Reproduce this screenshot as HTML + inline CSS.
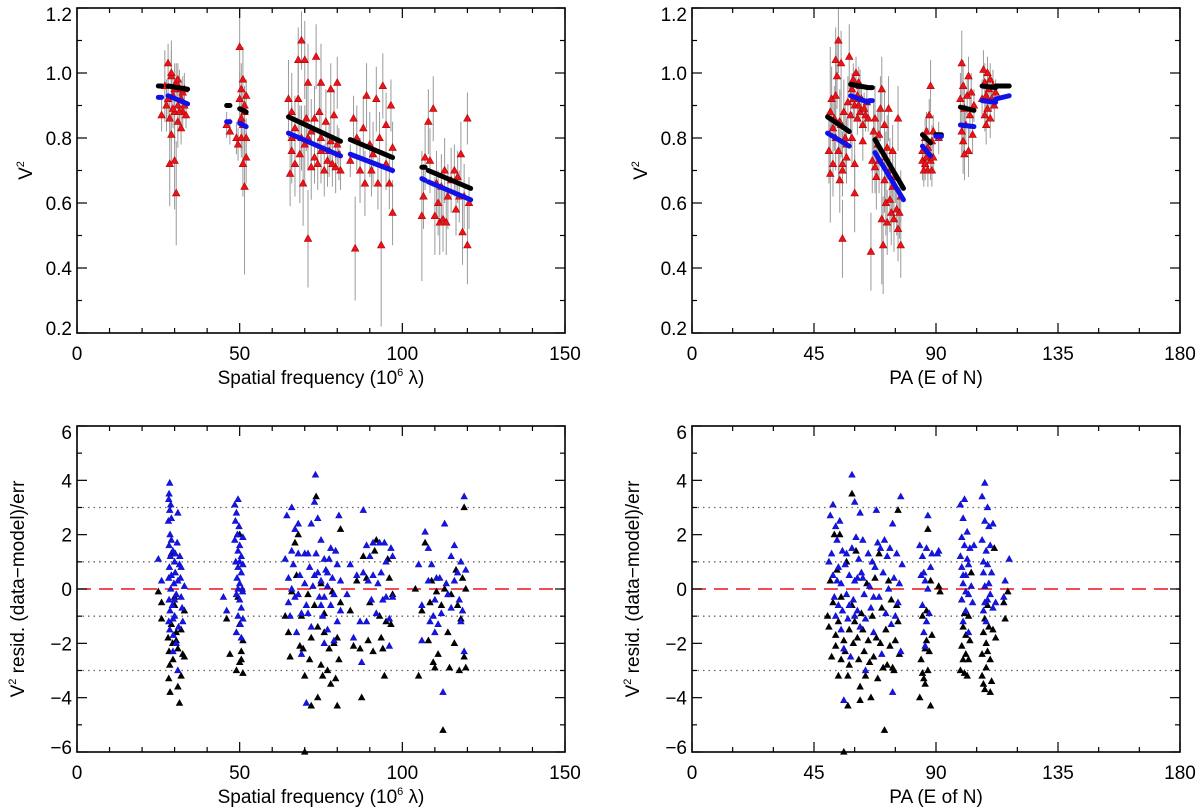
<!DOCTYPE html>
<html><head><meta charset="utf-8">
<style>
html,body{margin:0;padding:0;background:#fff;}
svg{display:block;font-family:"Liberation Sans",Arial,sans-serif;}
</style></head>
<body>
<svg id="chart" width="1200" height="810" viewBox="0 0 1200 810"></svg>
<script>
// ---------- DATA ----------
// Top-left: spatial frequency vs V^2 (x, V2, err)
const tlData = [
[26,0.87,.05],[27,0.96,.11],[28,1.03,.06],[28.5,0.72,.13],[29,0.81,.09],[29,0.99,.08],[29.5,0.93,.07],[30,0.73,.15],[30,0.88,.1],[30.5,0.63,.16],[30.5,0.97,.06],[31,0.90,.05],[31,0.85,.08],[31.5,0.95,.06],[32,0.83,.05],[32,0.92,.06],[32.5,0.88,.05],[33,0.90,.04],[33.5,0.87,.04],[28,0.92,.06],[29,1.0,.1],[30,0.95,.08],[31,0.98,.05],[32.5,0.94,.05],[27.5,0.9,.08],[33,0.95,.05],[28.5,0.86,.07],[29.5,0.89,.06],[31.5,0.88,.05],
[46,0.84,.04],[47,0.82,.04],[49.5,0.78,.05],[50,0.92,.08],[50,1.08,.12],[50.5,0.86,.1],[51,0.72,.1],[51,0.98,.1],[51.5,0.65,.27],[51.5,0.88,.08],[52,0.80,.06],[52,0.93,.05],[50.5,0.95,.08],[51,0.84,.1],[52,0.74,.08],[49,0.80,.05],[50.5,0.80,.06],[51.5,0.90,.06],
[65,0.92,.12],[65.5,0.69,.1],[66,0.76,.1],[66,0.88,.12],[67,0.83,.1],[67,0.72,.1],[68,0.92,.12],[68,1.04,.1],[68.5,0.75,.15],[69,1.10,.09],[69.5,0.66,.13],[70,0.78,.12],[70,1.04,.12],[70.5,0.86,.1],[71,0.49,.15],[71,0.97,.12],[72,0.82,.1],[72,0.71,.1],[73,0.86,.1],[73.5,1.05,.1],[74,0.72,.08],[74.5,0.88,.1],[75,0.97,.12],[75,0.76,.1],[76,0.70,.08],[76.5,0.85,.1],[77,0.73,.08],[78,0.95,.08],[78,0.79,.08],[79,0.87,.08],[79.5,0.71,.08],[80,0.97,.08],[80.5,0.75,.08],[81,0.70,.06],[66,0.80,.1],[71,0.80,.1],[75,0.80,.1],[77.5,0.76,.08],[80,0.78,.06],[73,0.74,.08],[78.5,0.72,.07],[69,0.80,.1],
[84,0.73,.05],[85,0.86,.07],[85.5,0.46,.16],[86,0.80,.1],[87,0.70,.1],[88,0.83,.1],[88.5,0.66,.1],[89,0.93,.1],[90,0.78,.1],[90.5,0.70,.08],[91,0.75,.1],[92,0.92,.1],[93,0.80,.08],[93.5,0.47,.25],[94,0.96,.1],[95,0.72,.08],[95,0.84,.1],[96,0.66,.08],[96.5,0.90,.08],[97,0.57,.1],[97,0.77,.08],[92.5,0.66,.08],
[106,0.56,.2],[106.5,0.62,.1],[107,0.74,.1],[108,0.85,.1],[108.5,0.73,.1],[109.5,0.89,.1],[110,0.56,.12],[111,0.60,.1],[111.5,0.54,.1],[112,0.65,.1],[112.5,0.55,.1],[113,0.70,.1],[113.5,0.54,.1],[114,0.62,.1],[115,0.67,.1],[116,0.70,.08],[116.5,0.58,.08],[117,0.68,.08],[118,0.75,.1],[118.5,0.51,.1],[119,0.62,.1],[120,0.86,.08],[120,0.47,.12],[120.5,0.60,.08],[117.5,0.62,.08],[110.5,0.66,.1]
];
// model segments: [x0, x1, black0, black1, blue0, blue1]
const tlModel = [
[25,26,0.96,0.96,0.925,0.925],[28,34,0.96,0.95,0.93,0.905],[46,47,0.90,0.90,0.85,0.85],[50,52,0.89,0.88,0.845,0.835],
[65,81,0.865,0.79,0.815,0.745],[84,97,0.795,0.74,0.75,0.70],[106,107,0.71,0.71,0.675,0.67],[108,121,0.70,0.645,0.665,0.61]
];
// Top-right: PA vs V^2
const trData = [
[50.5,0.76,.1],[51,0.88,.2],[51,0.69,.15],[51.5,0.92,.1],[52,0.72,.1],[52,0.83,.1],[52.5,0.86,.1],[53,0.93,.1],[53,1.04,.1],[53.5,0.99,.1],[54,1.10,.1],[54,0.76,.1],[54.5,0.67,.1],[55,0.84,.1],[55,1.03,.1],[55.5,0.49,.12],[55.5,0.72,.1],[56,0.88,.1],[56.5,0.80,.1],[57,0.74,.08],[57.5,0.91,.08],[57,0.78,.08],[55.5,0.70,.08],[53,0.80,.1],[54.5,0.85,.1],
[58,1.05,.1],[58.5,0.87,.1],[59,0.95,.05],[59,0.80,.08],[59.5,0.98,.05],[60,0.63,.12],[60,0.90,.05],[60.5,1.00,.05],[61,0.86,.05],[61,0.93,.05],[61.5,0.97,.05],[62,0.88,.05],[62.5,0.92,.05],[63,0.84,.05],[63.5,0.89,.05],[64,0.87,.05],[64.5,0.91,.04],[65,0.86,.04],[60,0.72,.08],[62,0.96,.05],[63,0.79,.06],[59.5,0.92,.05],[61.5,0.90,.05],
[66,0.45,.12],[66.5,0.73,.1],[67,0.82,.1],[67.5,0.86,.1],[68,0.68,.1],[68.5,0.78,.1],[69,0.73,.1],[69.5,0.89,.1],[70,0.55,.2],[70,0.95,.1],[70.5,0.47,.15],[71,0.67,.1],[71,0.84,.1],[71.5,0.60,.1],[72,0.77,.1],[72,0.54,.1],[72.5,0.89,.1],[73,0.70,.1],[73,0.61,.1],[73.5,0.57,.1],[74,0.76,.08],[74,0.65,.1],[74.5,0.55,.1],[75,0.68,.08],[75.5,0.58,.08],[76,0.52,.1],[76,0.86,.1],[76.5,0.57,.08],[77,0.47,.1],[77,0.62,.08],[69,0.81,.08],[71.5,0.74,.08],[67.5,0.71,.08],
[85,0.73,.06],[85,0.76,.06],[85.5,0.70,.05],[86,0.80,.06],[86,0.72,.05],[86.5,0.74,.05],[87,0.77,.06],[87,0.70,.05],[87.5,0.87,.05],[88,0.73,.06],[88,0.96,.08],[88.5,0.79,.05],[89,0.82,.05],[89,0.74,.05],[86.5,0.82,.06],[88.5,0.70,.05],[91,0.80,.05],
[99,0.92,.08],[99.5,0.82,.08],[99.5,1.03,.1],[100,0.79,.1],[100,0.96,.08],[100.5,0.89,.08],[101,0.84,.06],[101.5,0.93,.06],[102,0.76,.08],[102,0.99,.06],[102.5,0.87,.06],[103,0.94,.06],[103.5,0.81,.06],[104,0.90,.05],[100.5,0.75,.08],
[107,0.92,.06],[107.5,1.01,.06],[108,0.87,.05],[108,0.97,.06],[108.5,0.93,.05],[109,1.00,.05],[109,0.89,.05],[109.5,0.95,.05],[110,0.86,.06],[110,0.98,.05],[110.5,0.92,.04],[111,0.96,.05],[111.5,0.90,.05],[112,0.94,.04],[108.5,0.84,.06]
];
const trModel = [
[50,58,0.865,0.82,0.815,0.775],[58.5,65,0.965,0.955,0.93,0.91],[65.5,66.5,0.955,0.955,0.915,0.915],[67.5,78,0.795,0.645,0.755,0.61],
[85,88,0.81,0.785,0.775,0.745],[90,92,0.81,0.81,0.805,0.805],[99,104,0.895,0.885,0.84,0.835],[107,112,0.96,0.955,0.915,0.91],[112,117,0.96,0.96,0.92,0.93]
];
// Bottom-left residuals (spatial freq, resid)
const blBlue = [
[25,1.1],[26,0.3],[28.5,3.9],[28.3,3.5],[28.2,3.3],[28.5,2.9],[28.1,2.5],[28.6,2.0],[28.3,1.6],[28.7,1.2],[28.4,0.8],[28.2,0.4],[28.8,0.0],[28.3,-0.4],[28.6,-0.8],[28.2,-1.2],[28.5,-1.5],[29,1.8],[29.5,1.4],[30,1.0],[30.2,0.6],[29.8,0.2],[30.5,-0.2],[29.3,-0.6],[30,-1.0],[30.8,1.7],[31,2.8],[31.5,0.9],[31.8,0.4],[32,-0.3],[32.3,-0.7],[31.2,-1.4],[30.5,-2.0],[29.5,-2.3],[31,-3.0],[32.5,-1.2],[33,0.1],[30.2,1.3],[29,2.6],[28.8,3.1],[29.6,-1.7],[31.6,1.2],[29,0.5],[30,-0.4],[31,0.3],[32,0.8],[29.5,-1.1],
[45,-0.3],[46,-0.8],[48.5,3.1],[49,2.8],[49.5,3.3],[48.7,2.5],[49.3,2.0],[50,1.6],[49.5,1.4],[50.5,1.2],[48.8,1.0],[49.5,0.8],[50.5,0.6],[49.2,0.4],[50,0.2],[50.8,0.0],[49,-0.2],[50,-0.4],[50.5,-0.7],[49.5,-1.0],[50.2,-1.3],[49,-1.6],[50.5,-1.8],[51,1.9],[51,0.9],[50.9,-0.1],[51,-1.1],[48.5,1.8],[49.8,2.3],[50,1.0],[49.5,0.0],
[64,1.1],[64.5,2.7],[65,0.4],[65,-0.5],[65.5,-1.0],[66,3.0],[66,1.4],[66.5,0.9],[67,2.2],[67,-0.3],[67.5,-1.6],[68,2.4],[68,1.3],[68.5,0.5],[69,-0.9],[69,-2.4],[70,1.3],[70,0.2],[70.5,-0.6],[70.5,-4.2],[71,1.3],[71.5,0.8],[72,2.4],[72,-1.4],[72.5,0.1],[73,3.2],[73.3,4.2],[73.5,1.3],[74,2.6],[74,0.6],[74.5,-0.3],[75,1.8],[75,0.3],[75.5,-1.0],[76,1.1],[76,-0.3],[76.5,0.7],[77,-1.5],[77,0.1],[77.5,1.1],[78,-0.6],[78,1.5],[78.5,0.4],[79,-0.2],[79.5,1.4],[80,-1.2],[80,0.9],[80.5,2.7],[81,0.3],[81,-0.8],[79,-1.9],[76,-2.0],[68,-0.2],[71,-0.9],[66,0.0],[73,0.5],[75,-0.6],[77,0.6],
[83,-0.2],[84,0.9],[85,-1.8],[86,0.5],[87,-1.2],[87.5,-2.7],[88,2.9],[88,0.6],[89,1.6],[89,-1.2],[89.5,0.3],[90,1.2],[90.5,-0.4],[91,1.7],[91,0.5],[92,-0.9],[92.5,0.2],[93,1.7],[93.5,0.6],[94,-0.4],[94.5,1.7],[95,-0.3],[95,1.0],[96,-1.1],[96,-2.1],[96.5,1.5],[97,1.2],[97,-0.3],
[105,0.9],[106,-0.6],[106,-1.9],[107,2.1],[108,1.5],[108,0.3],[108.5,-1.2],[109,0.9],[110,-0.4],[110,-1.6],[110.5,0.4],[111,-1.3],[111.5,0.4],[112,-0.9],[112.5,-3.8],[113,2.4],[113.5,0.2],[114,-0.2],[115,1.2],[115,-0.7],[116,1.6],[116,0.3],[117,0.6],[117.5,-0.4],[118,1.0],[118,-1.2],[119,3.4],[119,-2.3],[119.5,0.7],[118.5,-0.8],[109.5,-1.0]
];
const blBlack = [
[25,-0.1],[26,-0.5],[26,-1.1],[28,-1.8],[28.3,-2.3],[28.5,-2.8],[28.2,-3.3],[28.6,-3.8],[29,-1.3],[29.4,-2.0],[30,-0.3],[30.5,-1.6],[31,-2.2],[31,-3.6],[31.5,-4.2],[32,-1.5],[32.5,-2.4],[33,-2.5],[32,-3.2],[29,1.3],[30,-0.6],[33,-0.8],[29.5,-2.6],[30.5,-1.9],
[46,-1.1],[47,-2.4],[49,-3.0],[50,-2.7],[50.5,-2.3],[51,-3.1],[51,-1.9],[50,-1.3],[49.5,-0.3],[50,2.0],[50.5,-2.6],
[64,-1.0],[65,-1.6],[65.5,-2.5],[66,-0.1],[67,1.7],[67.5,0.5],[68,2.0],[68.5,-2.1],[69,-1.0],[69.5,-2.2],[70,-3.2],[70,-6.0],[71,-0.2],[72,-4.3],[72,-1.8],[73,-0.6],[73.5,3.4],[74,-1.4],[74,-4.0],[75,-2.8],[75.5,-3.2],[76,-0.9],[76,-1.6],[77,-3.0],[77.5,-2.2],[78,-3.5],[78.5,-0.1],[79,-2.0],[79.5,-3.3],[80,-4.3],[80.5,-2.6],[81,-0.5],[81,2.2],[80,-1.8],[75,0.2],[71.5,-2.6],
[84,-0.8],[85,-2.1],[86,0.3],[87,-2.2],[87.5,-4.0],[88,1.2],[89,0.4],[89.5,-1.9],[90,-0.5],[91,-2.3],[91.5,1.4],[93,-1.0],[93.5,-1.8],[94,-2.2],[94.5,-3.2],[95,-1.2],[95.5,1.1],[96,0.4],[96.5,-1.3],[97,-0.2],[92,1.8],
[104,0.0],[105,-3.2],[106,-0.8],[107,1.7],[108,-1.9],[108.5,-0.5],[109,0.3],[109.5,-2.7],[110,-2.9],[110.5,-0.1],[111,-2.4],[112,-0.6],[112.5,-5.2],[113,0.0],[114,-1.6],[114.5,-2.9],[115,-0.2],[116,-2.0],[116.5,0.7],[117,-0.6],[117.5,-3.0],[118,-1.1],[118.5,0.4],[119,-2.5],[119,3.0],[119.5,-2.9],[119.5,0.0]
];
// Bottom-right residuals (PA, resid)
const brBlue = [
[50.5,1.0],[51,2.7],[51.5,1.3],[52,3.1],[52,0.5],[52.5,-0.3],[53,2.3],[53,-1.0],[53.5,1.8],[54,0.8],[54,-0.6],[54.5,2.5],[55,-1.5],[55,0.2],[55.5,1.4],[56,-2.2],[56,-4.1],[56.5,0.9],[57,-0.2],[57,1.3],[57.5,-1.1],[58,0.5],[58.5,-2.5],[59,4.2],[59,1.5],[59.5,-0.4],[60,3.2],[60,0.3],[60.5,1.9],[61,-0.8],[61.5,1.1],[62,-1.4],[62,2.8],[62.5,0.6],[63,1.8],[63.5,-0.2],[64,-1.1],[64,-3.0],[65,1.3],[65.5,0.1],[66,-0.7],[66.5,1.0],[67,-1.6],[67.5,0.8],[68,2.9],[68.5,1.7],[69,-0.3],[69.5,1.5],[70,-2.4],[70.5,0.6],[71,1.8],[71.5,-0.9],[72,1.2],[72.5,0.0],[73,1.5],[73.5,-1.3],[74,2.4],[74,-3.8],[74.5,0.4],[75,-1.0],[75.5,1.3],[76,-0.5],[76.5,0.2],[77,3.4],[77,-2.3],[77.5,0.9],[67,-0.3],[61,0.4],[55.5,-0.8],[58,-0.6],[60,-1.0],[63,0.4],[53.5,0.3],
[84,1.6],[84.5,0.5],[85,-0.6],[85,1.2],[85.5,-1.6],[86,0.3],[86,-2.1],[86.5,1.5],[87,0.0],[87,2.7],[87.5,-0.9],[88,0.8],[88.5,1.3],[86.5,-1.2],[85.5,0.6],[91,1.4],[90.5,1.3],
[99,3.1],[99,1.2],[99.5,-0.4],[99.5,0.8],[100,2.6],[100,0.2],[100,-1.2],[100.5,3.3],[100.5,1.6],[101,-0.8],[101,0.5],[101.5,2.1],[101.5,1.1],[102,-0.2],[102,-1.6],[102.5,1.5],[103,0.1],[103.5,-0.5],[104,1.6],[99.5,1.9],[101,-0.1],[100,0.5],[102,0.9],
[107,3.4],[107,1.8],[107.5,0.6],[107.5,-0.8],[108,3.9],[108,2.5],[108,0.1],[108.5,1.4],[108.5,-1.2],[109,3.0],[109,0.9],[109,-0.4],[109.5,2.3],[110,1.6],[110,-0.2],[110.5,0.6],[111,2.4],[111,-0.7],[112,-0.5],[107.5,1.0],[115,-0.3],[115.5,0.3],[117,1.1],[108,-0.5],[109.5,0.2]
];
const brBlack = [
[50,-1.0],[50.5,-1.4],[51,0.3],[51.5,-2.5],[52,-0.5],[52.5,2.0],[53,-2.1],[53,-1.7],[53.5,0.7],[54,-3.2],[54,-1.2],[54.5,2.0],[55,-2.6],[55,-0.3],[56,-1.9],[56,-6.0],[56.5,-2.3],[57,1.0],[57.5,-4.3],[57.5,-3.2],[58,-1.5],[58,-2.8],[59,3.5],[59,-0.6],[59.5,-2.0],[60,-1.2],[60.5,1.4],[61,-1.8],[61.5,-2.6],[62,-4.1],[62,-3.6],[62.5,-0.9],[63,-1.5],[63.5,-2.3],[64,-3.2],[64.5,0.2],[65,-1.9],[65.5,-2.7],[66,-4.0],[66.5,-1.0],[67,-2.5],[67.5,0.4],[68,-1.8],[68.5,-3.3],[69,1.3],[69.5,-2.0],[70,-0.7],[70.5,-2.9],[71,-5.2],[71.5,-1.5],[72,-2.8],[72.5,0.3],[73,-2.1],[73.5,-0.4],[74,-2.9],[74.5,-3.0],[75,-1.9],[75.5,-0.6],[76,2.9],[76,-1.2],[76.5,-2.4],
[84,-4.0],[84.5,-2.6],[85,-3.1],[85,-1.0],[85.5,-3.3],[86,-2.2],[86,-3.5],[86.5,-1.9],[87,-3.0],[87,2.2],[87.5,-2.3],[88,-4.3],[88,0.3],[88.5,-1.7],[86.5,-0.8],[91,0.1],[91.5,-0.1],
[99,-3.0],[99.5,-2.1],[100,-1.4],[100,-2.6],[100.5,-3.1],[100.5,-0.9],[101,-2.4],[101,-1.7],[101.5,-3.2],[102,-2.6],[102,-1.0],[102.5,-1.9],[103,0.6],[99.5,-0.4],
[107,-3.2],[107,-2.4],[107.5,-1.6],[107.5,-3.5],[108,-1.1],[108,-3.7],[108.5,-2.0],[108.5,-2.9],[109,-0.6],[109,-2.3],[109.5,-1.4],[110,-3.8],[110,-2.6],[110.5,-3.4],[111,-1.5],[111.5,1.5],[112,-1.8],[115,-0.5],[115.5,-1.1],[116.5,-0.1]
];
const xTicksFreq = [0,50,100,150];
const xTicksPA = [0,45,90,135,180];
const yTicksV2 = [0.2,0.4,0.6,0.8,1.0,1.2];
const yTicksRes = [-6,-4,-2,0,2,4,6];
const refLines = [-3,-1,1,3];

// ---------- DRAWING ----------
const NS='http://www.w3.org/2000/svg';
const svg=document.getElementById('chart');
function mk(tag,attrs,parent){const e=document.createElementNS(NS,tag);for(const k in attrs)e.setAttribute(k,attrs[k]);(parent||svg).appendChild(e);return e;}
function lin(d0,d1,r0,r1){return v=>r0+(v-d0)*(r1-r0)/(d1-d0);}

function panel(name,L,R,T,B,xd,yd,xt,xminor,yt,yminor,yfmt,xtitle,ytitle){
  const g=mk('g',{});
  
  
  const sx=lin(xd[0],xd[1],L,R), sy=lin(yd[0],yd[1],B,T);
  const plot=mk('g',{},g);
  
  
  const fr=mk('rect',{x:L,y:T,width:R-L,height:B-T,fill:'none',stroke:'#000','stroke-width':1.6},g);
  
  
  const ax=mk('g',{stroke:'#000','stroke-width':1.2},g);
  
  
  for(let v=xd[0];v<=xd[1]+1e-9;v+=xminor){const X=sx(v);const major=xt.some(t=>Math.abs(t-v)<1e-6);const l=major?10:5;
    mk('line',{x1:X,y1:B,x2:X,y2:B-l},ax);mk('line',{x1:X,y1:T,x2:X,y2:T+l},ax);}
  for(let v=yd[0];v<=yd[1]+1e-9;v+=yminor){const Y=sy(v);const major=yt.some(t=>Math.abs(t-v)<1e-6);const l=major?10:5;
    mk('line',{x1:L,y1:Y,x2:L+l,y2:Y},ax);mk('line',{x1:R,y1:Y,x2:R-l,y2:Y},ax);}
  xt.forEach(t=>{const tx=mk('text',{x:sx(t),y:B+27,'font-size':19,'text-anchor':'middle'},g);tx.textContent=t;
    
    });
  yt.forEach((t,i)=>{let Y=sy(t)+7;if(i===yt.length-1)Y+=6;if(i===0)Y-=5;
    const tx=mk('text',{x:L-5,y:Y,'font-size':19,'text-anchor':'end'},g);tx.textContent=yfmt(t);
    
    });
  const xtl=mk('text',{x:(L+R)/2,y:B+51,'font-size':19,'text-anchor':'middle'},g);xtl.innerHTML=xtitle;
  
  
  const ytl=mk('text',{x:0,y:0,'font-size':19,'text-anchor':'middle',transform:`translate(${ytitle[1]},${(T+B)/2}) rotate(-90)`},g);ytl.innerHTML=ytitle[0];
  
  
  return {plot,sx,sy,L,R,T,B};
}
function tri(p,x,y,s,fill,stroke){const h=s*0.9;return mk('polygon',{points:`${x},${y-h*0.6} ${x-s/2},${y+h*0.4} ${x+s/2},${y+h*0.4}`,fill:fill,stroke:stroke,'stroke-width':0.6},p);}

function topPanel(name,L,R,xd,xt,xminor,xtitle,data,model){
  const P=panel(name,L,R,8,333,xd,[0.2,1.2],xt,xminor,yTicksV2,0.1,v=>v.toFixed(1),xtitle,['V<tspan font-size="11" dy="-8">2</tspan>',L-45]);
  const eb=mk('g',{stroke:'#9a9a9a','stroke-width':1},P.plot);
  
  
  data.forEach(d=>{const l=mk('line',{x1:P.sx(d[0]),x2:P.sx(d[0]),y1:P.sy(Math.max(0.2,d[1]-d[2])),y2:P.sy(Math.min(1.2,d[1]+d[2]))},eb);
    
    });
  const pts=mk('g',{},P.plot);
  
  
  data.forEach(d=>{const t=tri(pts,P.sx(d[0]),P.sy(d[1]),7.5,'#e8141c','#b00');
    
    });
  const mg=mk('g',{},P.plot);
  
  
  model.forEach(m=>{
    const a=mk('line',{x1:P.sx(m[0]),x2:P.sx(m[1]),y1:P.sy(m[2]),y2:P.sy(m[3]),stroke:'#000','stroke-width':5,'stroke-linecap':'round'},mg);
    
    
    const b=mk('line',{x1:P.sx(m[0]),x2:P.sx(m[1]),y1:P.sy(m[4]),y2:P.sy(m[5]),stroke:'#1010e8','stroke-width':5,'stroke-linecap':'round'},mg);
    
    
  });
}
function botPanel(name,L,R,xd,xt,xminor,xtitle,blue,black){
  const P=panel(name,L,R,426,752,xd,[-6,6],xt,xminor,yTicksRes,1,v=>v<0?'\u2212'+(-v):String(v),xtitle,['V<tspan font-size="11" dy="-8">2</tspan><tspan dy="8"> resid. (data\u2212model)/err</tspan>',L-53]);
  refLines.forEach(r=>{const l=mk('line',{x1:L,x2:R,y1:P.sy(r),y2:P.sy(r),stroke:'#666','stroke-width':1.3,'stroke-dasharray':'1.5 4'},P.plot);
    
    });
  const z=mk('line',{x1:L,x2:R,y1:P.sy(0),y2:P.sy(0),stroke:'#e8141c','stroke-width':1.6,'stroke-dasharray':'14 8'},P.plot);
  
  
  const gk=mk('g',{},P.plot);
  
  
  black.forEach(d=>{const t=tri(gk,P.sx(d[0]),P.sy(d[1]),6.5,'#000','#000');
    
    });
  const gb=mk('g',{},P.plot);
  
  
  blue.forEach(d=>{const t=tri(gb,P.sx(d[0]),P.sy(d[1]),6.5,'#1414e6','#1010c0');
    
    });
}
const freqTitle='Spatial frequency (10<tspan font-size="11" dy="-8">6</tspan><tspan dy="8"> \u03bb)</tspan>';
topPanel('v2-vs-frequency-panel',77,565,[0,150],xTicksFreq,10,freqTitle,tlData,tlModel);
topPanel('v2-vs-pa-panel',692,1180,[0,180],xTicksPA,15,'PA (E of N)',trData,trModel);
botPanel('residual-vs-frequency-panel',77,565,[0,150],xTicksFreq,10,freqTitle,blBlue,blBlack);
botPanel('residual-vs-pa-panel',692,1180,[0,180],xTicksPA,15,'PA (E of N)',brBlue,brBlack);
</script>
</body></html>
